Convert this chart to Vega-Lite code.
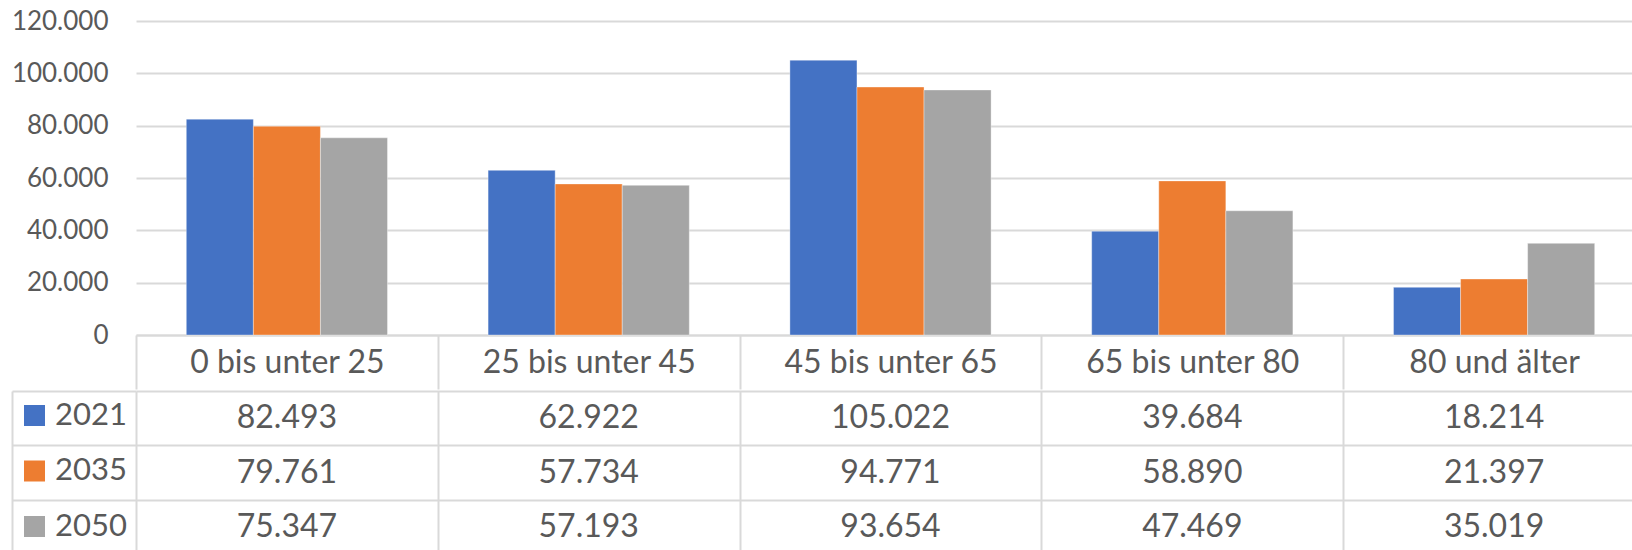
{
  "$schema": "https://vega.github.io/schema/vega-lite/v6.json",
  "padding": {"left": 11, "top": 8, "right": 0, "bottom": 0},
  "autosize": {"type": "pad"},
  "background": "white",
  "config": {
    "locale": {"number": {"decimal": ",", "thousands": ".", "grouping": [3], "currency": ["", " €"]}},
    "font": "Lato",
    "view": {"stroke": null}
  },
  "data": {
    "values": [
      {"Altersgruppe": "0 bis unter 25", "Jahr": "2021", "Einwohner": 82493},
      {"Altersgruppe": "0 bis unter 25", "Jahr": "2035", "Einwohner": 79761},
      {"Altersgruppe": "0 bis unter 25", "Jahr": "2050", "Einwohner": 75347},
      {"Altersgruppe": "25 bis unter 45", "Jahr": "2021", "Einwohner": 62922},
      {"Altersgruppe": "25 bis unter 45", "Jahr": "2035", "Einwohner": 57734},
      {"Altersgruppe": "25 bis unter 45", "Jahr": "2050", "Einwohner": 57193},
      {"Altersgruppe": "45 bis unter 65", "Jahr": "2021", "Einwohner": 105022},
      {"Altersgruppe": "45 bis unter 65", "Jahr": "2035", "Einwohner": 94771},
      {"Altersgruppe": "45 bis unter 65", "Jahr": "2050", "Einwohner": 93654},
      {"Altersgruppe": "65 bis unter 80", "Jahr": "2021", "Einwohner": 39684},
      {"Altersgruppe": "65 bis unter 80", "Jahr": "2035", "Einwohner": 58890},
      {"Altersgruppe": "65 bis unter 80", "Jahr": "2050", "Einwohner": 47469},
      {"Altersgruppe": "80 und älter", "Jahr": "2021", "Einwohner": 18214},
      {"Altersgruppe": "80 und älter", "Jahr": "2035", "Einwohner": 21397},
      {"Altersgruppe": "80 und älter", "Jahr": "2050", "Einwohner": 35019}
    ]
  },
  "spacing": 0,
  "resolve": {"scale": {"x": "shared", "y": "independent", "color": "shared"}},
  "vconcat": [
    {
      "width": 1509,
      "height": 314,
      "mark": {"type": "bar", "stroke": "white", "strokeWidth": 0.6, "strokeOpacity": 0.6},
      "encoding": {
        "x": {
          "field": "Altersgruppe", "type": "nominal", "sort": null,
          "scale": {"paddingInner": 0, "paddingOuter": 0},
          "axis": {
            "title": null, "orient": "bottom", "tickBand": "extent", "tickSize": 54,
            "tickColor": "#d9d9d9", "tickWidth": 2, "domainColor": "#d9d9d9", "domainWidth": 2,
            "labelAngle": 0, "labelFontSize": 32, "labelColor": "#595959", "labelBaseline": "middle",
            "labelPadding": -27, "labelLimit": 0, "grid": false
          }
        },
        "xOffset": {"field": "Jahr", "type": "nominal", "scale": {"paddingInner": 0, "paddingOuter": 0.75}},
        "y": {
          "field": "Einwohner", "type": "quantitative",
          "scale": {"domain": [0, 120000]},
          "axis": {
            "title": null, "values": [0, 20000, 40000, 60000, 80000, 100000, 120000], "format": ",.0f",
            "labelFontSize": 26, "labelColor": "#595959", "domain": false, "ticks": false,
            "labelPadding": 28, "gridColor": "#d9d9d9", "gridWidth": 2
          }
        },
        "color": {
          "field": "Jahr", "type": "nominal",
          "scale": {"domain": ["2021", "2035", "2050"], "range": ["#4472C4", "#ED7D31", "#A5A5A5"]},
          "legend": {
            "title": null, "orient": "none", "legendX": -117, "legendY": 379,
            "symbolType": "square", "symbolSize": 441, "symbolStrokeWidth": 0, "symbolOpacity": 1,
            "labelFontSize": 31, "labelColor": "#595959", "labelOffset": 5, "rowPadding": 23.5,
            "padding": 0
          }
        }
      }
    },
    {
      "width": 1509,
      "height": 163,
      "mark": {"type": "text", "fontSize": 32, "color": "#595959"},
      "encoding": {
        "x": {
          "field": "Altersgruppe", "type": "nominal", "sort": null,
          "scale": {"paddingInner": 0, "paddingOuter": 0},
          "axis": {"title": null, "orient": "top", "labels": false, "ticks": false, "domain": false,
                   "grid": true, "tickBand": "extent", "gridColor": "#d9d9d9", "gridWidth": 2}
        },
        "y": {
          "field": "Jahr", "type": "nominal",
          "scale": {"paddingInner": 0, "paddingOuter": 0},
          "axis": {"title": null, "labels": false, "offset": 124, "domain": true, "domainColor": "#d9d9d9",
                   "domainWidth": 2, "tickBand": "extent", "tickSize": -124,
                   "tickColor": "#d9d9d9", "tickWidth": 2, "grid": true, "gridColor": "#d9d9d9", "gridWidth": 2}
        },
        "text": {"field": "Einwohner", "type": "quantitative", "format": ",.0f"}
      }
    }
  ]
}
